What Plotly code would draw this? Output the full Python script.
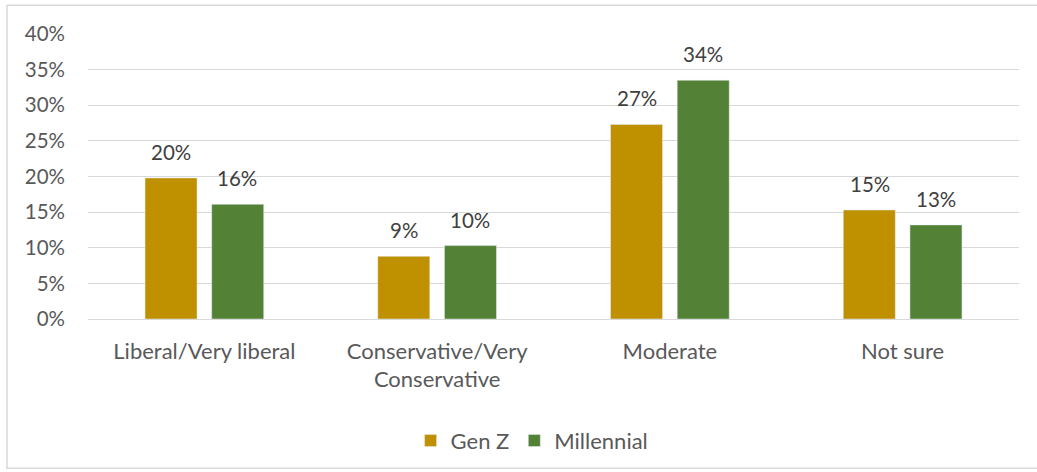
import plotly.graph_objects as go

# Political identification by generation
categories = ["Liberal/Very liberal", "Conservative/Very<br>Conservative", "Moderate", "Not sure"]
gen_z = [0.198, 0.088, 0.273, 0.153]
millennial = [0.161, 0.103, 0.335, 0.132]
y_ticks = [0, 0.05, 0.10, 0.15, 0.20, 0.25, 0.30, 0.35, 0.40]

GEN_Z_COLOR = "#BF9000"
MILLENNIAL_COLOR = "#538135"
FONT = "Lato"
TEXT_COLOR = "#595959"

fig = go.Figure()
fig.add_trace(go.Bar(name="Gen Z", x=categories, y=gen_z, marker_color=GEN_Z_COLOR))
fig.add_trace(go.Bar(name="Millennial", x=categories, y=millennial, marker_color=MILLENNIAL_COLOR))

# Value labels above each bar
for series, shift in ((gen_z, -33), (millennial, 33)):
    for cat, val in zip(categories, series):
        fig.add_annotation(
            x=cat, y=val, xref="x", yref="y",
            text=f"{val:.0%}", showarrow=False,
            xanchor="center", yanchor="bottom", xshift=shift, yshift=12,
            font=dict(family=FONT, size=20.5, color="#404040"),
        )

fig.update_layout(
    width=1037, height=472,
    margin=dict(l=88, r=18, t=33.5, b=152),
    paper_bgcolor="white", plot_bgcolor="white",
    barmode="group", bargap=0.427, bargroupgap=0.22,
    font=dict(family=FONT, size=20, color=TEXT_COLOR),
    showlegend=True,
    legend=dict(
        orientation="h", x=0.477, xanchor="center", y=-0.422, yanchor="middle",
        font=dict(family=FONT, size=22, color=TEXT_COLOR),
        itemclick=False, traceorder="normal",
    ),
    shapes=[dict(
        type="rect", xref="paper", yref="paper",
        x0=-0.087, x1=1.03, y0=-0.5236, y1=1.101,
        line=dict(color="#d9d9d9", width=1.5), fillcolor="rgba(0,0,0,0)", layer="below",
    )],
)

fig.update_yaxes(
    range=[0, 0.40], tickvals=y_ticks, tickformat=".0%",
    showgrid=True, gridcolor="#d9d9d9", gridwidth=1.3,
    zeroline=False, showline=False, ticks="", ticklabelstandoff=22,
    tickfont=dict(family=FONT, size=20.5, color=TEXT_COLOR),
)
fig.update_xaxes(
    showline=True, linecolor="#d9d9d9", linewidth=1.3,
    ticks="", ticklabelstandoff=12,
    tickfont=dict(family=FONT, size=22, color=TEXT_COLOR),
)

fig.write_html("out.html")
